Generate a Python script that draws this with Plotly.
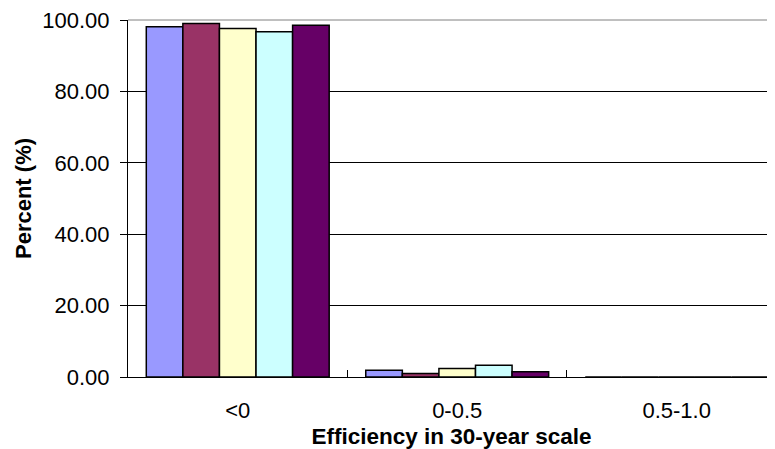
import plotly.graph_objects as go

categories = ["<0", "0-0.5", "0.5-1.0"]
series_names = ["Series 1", "Series 2", "Series 3", "Series 4", "Series 5"]
series_values = [
    [98.1, 1.9, 0.0],
    [99.0, 1.0, 0.0],
    [97.6, 2.4, 0.0],
    [96.7, 3.3, 0.0],
    [98.5, 1.5, 0.0],
]
series_colors = ["#9999FF", "#993366", "#FFFFCC", "#CCFFFF", "#660066"]
y_ticks = [0, 20, 40, 60, 80, 100]

FONT = "Liberation Sans, Arial, sans-serif"

fig = go.Figure()
for name, vals, col in zip(series_names, series_values, series_colors):
    fig.add_trace(go.Bar(
        x=categories, y=vals, name=name,
        marker=dict(color=col, line=dict(color="black", width=1.5)),
    ))

# page body has an 8px margin, so the figure is offset by 8px
fig.update_layout(
    width=767, height=441,
    margin=dict(l=120, r=0, t=11, b=71),
    paper_bgcolor="white", plot_bgcolor="white",
    barmode="group", bargap=1/6, bargroupgap=0,
    showlegend=False,
    font=dict(family=FONT, size=22, color="black"),
    shapes=[dict(type="line", xref="paper", yref="paper", x0=0, x1=1, y0=1, y1=1,
                 line=dict(color="#808080", width=1), layer="above")],
)
fig.update_xaxes(
    type="category",
    range=[-0.5, 2.448],
    showline=True, linecolor="black", linewidth=1,
    ticks="inside", tickson="boundaries", ticklen=7, tickcolor="black", tickwidth=1,
    tickfont=dict(size=22),
    ticklabelstandoff=14,
    title=dict(text="<b>Efficiency in 30-year scale</b>", font=dict(size=22.5), standoff=10),
    showgrid=False,
)
fig.update_yaxes(
    range=[0, 100],
    tickvals=y_ticks, ticktext=[f"{v:.2f}\u2008" for v in y_ticks],
    ticklabeloverflow="allow",
    showline=True, linecolor="black", linewidth=1,
    ticks="outside", ticklen=7, tickcolor="black", tickwidth=1,
    showgrid=True, gridcolor="black", gridwidth=1,
    zeroline=False,
    tickfont=dict(size=22),
    title=dict(text="<b>Percent (%)</b>", font=dict(size=22), standoff=4),
)

fig.write_html("out.html")
